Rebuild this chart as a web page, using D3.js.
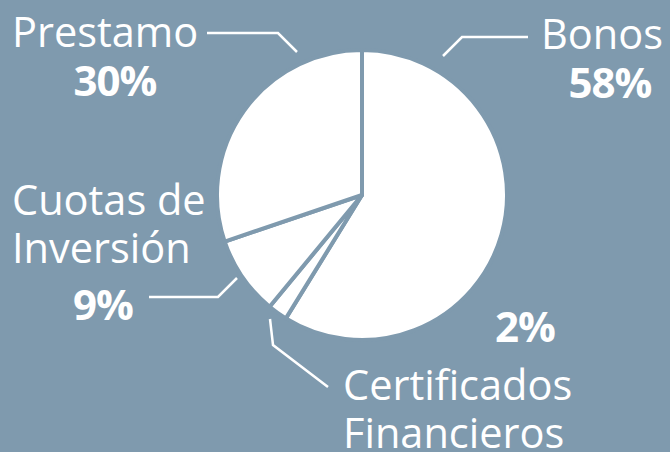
<!DOCTYPE html>
<html>
<head>
<meta charset="utf-8">
<script src="https://cdn.jsdelivr.net/npm/d3@7"></script>
<style>
  html, body { margin: 0; padding: 0; background: #7f9aae; }
  svg { display: block; }
  text { font-family: "Open Sans", sans-serif; fill: #fff; }
</style>
</head>
<body>
<script>
// data
var categories = ["Bonos", "Certificados Financieros", "Cuotas de Inversión", "Prestamo"];
var shares = [58.8, 2.2, 8.8, 30.2];
var pctLabels = ["58%", "2%", "9%", "30%"];

var svgWidth = 670;
var svgHeight = 452;
var bg = "#7f9aae";

var svg = d3.select("body")
  .append("svg")
  .attr("width", svgWidth)
  .attr("height", svgHeight);

svg.append("rect")
  .attr("width", svgWidth)
  .attr("height", svgHeight)
  .attr("fill", bg);

var cx = 362, cy = 195, radius = 145;

var pie = d3.pie().sort(null).value(d => d)(shares);
var arc = d3.arc().innerRadius(0).outerRadius(radius);

var chartGroup = svg.append("g")
  .attr("transform", `translate(${cx}, ${cy})`);

chartGroup.selectAll("path")
  .data(pie)
  .enter()
  .append("path")
  .attr("d", arc)
  .attr("fill", "#fff")
  .attr("stroke", bg)
  .attr("stroke-width", 4)
  .attr("stroke-linejoin", "round");

// label layout (name lines, percent, leader polyline)
var layout = [
  { lines: [[663, 49]], anchor: "end", pct: [610, 98], leader: [[528, 37], [462, 37], [443, 56]] },
  { lines: [[343, 400], [343, 448]], anchor: "start", pct: [525, 342], leader: [[328, 387], [273, 345], [270, 319]] },
  { lines: [[12, 215], [12, 263]], anchor: "start", pct: [103, 320], leader: [[149, 297], [218, 297], [237, 278]] },
  { lines: [[12, 47]], anchor: "start", pct: [115, 96], leader: [[207, 33], [278, 33], [297, 52]] }
];

var nameLines = [["Bonos"], ["Certificados", "Financieros"], ["Cuotas de", "Inversión"], ["Prestamo"]];

var line = d3.line();

layout.forEach(function(l, i) {
  nameLines[i].forEach(function(t, j) {
    svg.append("text")
      .attr("x", l.lines[j][0])
      .attr("y", l.lines[j][1])
      .attr("text-anchor", l.anchor)
      .style("font-size", "41.5px")
      .text(t);
  });
  svg.append("text")
    .attr("x", l.pct[0])
    .attr("y", l.pct[1])
    .attr("text-anchor", "middle")
    .style("font-size", "42px")
    .style("font-weight", "700")
    .style("letter-spacing", "-1px")
    .text(pctLabels[i]);
  svg.append("path")
    .attr("d", line(l.leader))
    .attr("fill", "none")
    .attr("stroke", "#fff")
    .attr("stroke-width", 2.5);
});
</script>
</body>
</html>
